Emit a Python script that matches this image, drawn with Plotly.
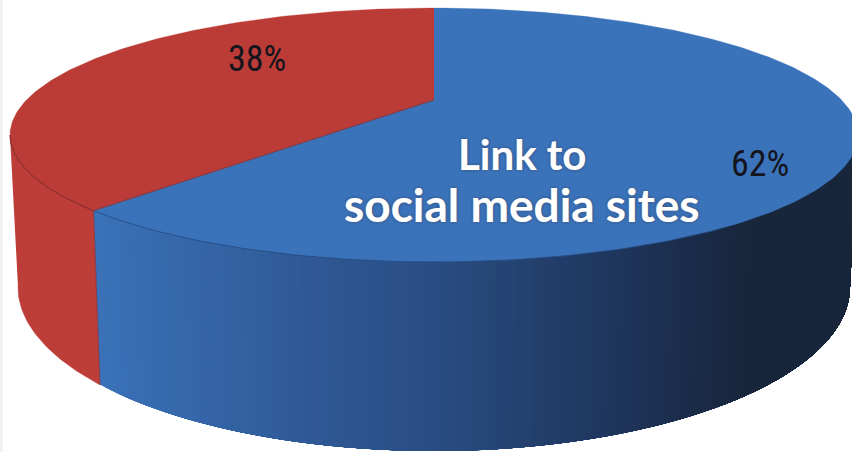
import numpy as np
import plotly.graph_objects as go

# Pie content
categories = ["No", "Yes"]
shares = [38, 62]
slice_colors = ["#bb3c37", "#3b73ba"]
red_side_color = "#bd3d39"
headline = ["Link to", "social media sites"]

# Side shading of the large slice: (screen x, rgb)
side_stops_x = [95, 284, 430, 568, 680, 750, 860]
side_stops_rgb = [
    (58, 113, 184),
    (48, 91, 153),
    (41, 77, 130),
    (33, 59, 102),
    (27, 45, 76),
    (24, 38, 59),
    (24, 38, 59),
]

# Perspective model of the disc
CX, PERSP = 434.0, -0.235
APEX = (CX, 100.0)
TOP_RING = dict(rx=424.0, far=8.0, near=262.0)
BOTTOM_RING = dict(rx=416.0, far=123.0, near=451.0)


def ring_xy(phi_deg, ring):
    """Project an angle (counter-clockwise from the back of the disc) onto a ring."""
    phi = np.radians(np.asarray(phi_deg, dtype=float))
    u, v = -np.sin(phi), -np.cos(phi)
    a_plus_b = ring["near"] * (1 + PERSP)
    b_minus_a = ring["far"] * (1 - PERSP)
    b, a = (a_plus_b + b_minus_a) / 2, (a_plus_b - b_minus_a) / 2
    w = 1 + PERSP * v
    d = ring["rx"] * np.sqrt(1 - PERSP**2)
    return CX + d * u / w, (a * v + b) / w


def side_color(x):
    chans = [np.interp(x, side_stops_x, [c[i] for c in side_stops_rgb]) for i in range(3)]
    return "rgb(%d,%d,%d)" % tuple(round(c) for c in chans)


split = shares[0] / sum(shares) * 360.0
sil_left = np.degrees(np.arccos(PERSP))      # silhouette tangent on the left
sil_right = 360.0 - sil_left                 # and on the right

fig = go.Figure()


def polygon(x, y, color, line_width=0.6):
    fig.add_trace(go.Scatter(
        x=x, y=y, mode="lines", fill="toself", fillcolor=color,
        line=dict(color=color, width=line_width), hoverinfo="skip", showlegend=False,
    ))


# Side wall of the small slice
phi = np.linspace(sil_left, split, 60)
tx, ty = ring_xy(phi, TOP_RING)
bx, by = ring_xy(phi[::-1], BOTTOM_RING)
polygon(np.r_[tx, bx], np.r_[ty, by], red_side_color)

# Side wall of the large slice: each band runs to the far silhouette and the next
# one paints over it, so the shading has no seams
for p0 in np.linspace(split, sil_right, 121)[:-1]:
    seg = np.linspace(p0, sil_right, 50)
    tx, ty = ring_xy(seg, TOP_RING)
    bx, by = ring_xy(seg[::-1], BOTTOM_RING)
    polygon(np.r_[tx, bx], np.r_[ty, by], side_color(tx[0]), 0)

# Top faces
phi = np.linspace(0, split, 160)
tx, ty = ring_xy(phi, TOP_RING)
polygon(np.r_[APEX[0], tx], np.r_[APEX[1], ty], slice_colors[0], 0.3)
phi = np.linspace(split, 360, 260)
tx, ty = ring_xy(phi, TOP_RING)
polygon(np.r_[APEX[0], tx], np.r_[APEX[1], ty], slice_colors[1], 0.3)

# Edges: front rim and slice border
for rng, col in (
    ((sil_left, split), "rgba(110,35,35,0.85)"),
    ((split, 215), "rgba(35,70,120,0.75)"),
):
    tx, ty = ring_xy(np.linspace(rng[0], rng[1], 80), TOP_RING)
    fig.add_trace(go.Scatter(x=tx, y=ty, mode="lines", line=dict(color=col, width=1),
                             hoverinfo="skip", showlegend=False))
sx, sy = ring_xy(split, TOP_RING)
fig.add_trace(go.Scatter(x=[APEX[0], float(sx)], y=[APEX[1], float(sy)], mode="lines",
                         line=dict(color="rgba(120,40,45,0.8)", width=1),
                         hoverinfo="skip", showlegend=False))
sx2, sy2 = ring_xy(split, BOTTOM_RING)
fig.add_trace(go.Scatter(x=[float(sx), float(sx2)], y=[float(sy), float(sy2)], mode="lines",
                         line=dict(color="rgba(125,45,55,0.7)", width=1),
                         hoverinfo="skip", showlegend=False))

annotations = []
narrow = "Roboto Condensed, Open Sans Condensed, Noto Sans Condensed, Roboto, sans-serif"
for text, x, y in ((f"{shares[0]}%", 257, 59), (f"{shares[1]}%", 760, 164)):
    annotations.append(dict(
        x=x, y=y, text=text, showarrow=False, xanchor="center", yanchor="middle",
        font=dict(family=narrow, size=36, weight=400, color="#14141c"),
    ))
glow = "0 0 3px #1d3560, 0 0 1px #ffffff"
for text, x, y, size in ((headline[0], 522, 154, 42), (headline[1], 521, 204, 46)):
    annotations.append(dict(
        x=x, y=y, text=text, showarrow=False, xanchor="center", yanchor="middle",
        font=dict(family="Lato", size=size, weight=700, color="#ffffff", shadow=glow),
    ))

fig.update_layout(
    width=852, height=452, margin=dict(l=0, r=0, t=0, b=0),
    paper_bgcolor="#ffffff", plot_bgcolor="#ffffff", showlegend=False,
    xaxis=dict(range=[0, 852], visible=False, fixedrange=True),
    yaxis=dict(range=[452, 0], visible=False, fixedrange=True),
    annotations=annotations,
    shapes=[dict(type="rect", xref="x", yref="y", x0=0, x1=3, y0=0, y1=452,
                 fillcolor="#f2f2f2", line_width=0, layer="below")],
)

fig.write_html("out.html", config={"displayModeBar": False})
